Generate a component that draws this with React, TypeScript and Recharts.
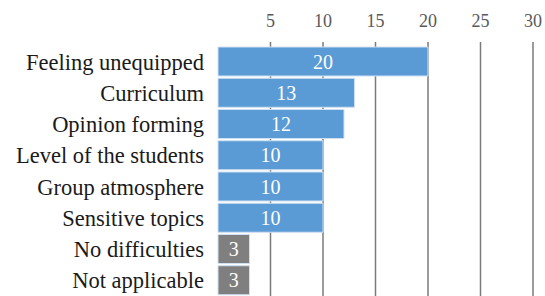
import { Bar, BarChart, CartesianGrid, Cell, LabelList, XAxis, YAxis } from 'recharts'

const categories = [
  'Feeling unequipped',
  'Curriculum',
  'Opinion forming',
  'Level of the students',
  'Group atmosphere',
  'Sensitive topics',
  'No difficulties',
  'Not applicable',
]
const counts = [20, 13, 12, 10, 10, 10, 3, 3]
const xTicks = [5, 10, 15, 20, 25, 30]

// last two rows are the "no answer" type rows, drawn in grey
const greyRows = ['No difficulties', 'Not applicable']

const data = categories.map((name, i) => ({ name, value: counts[i] }))

const FONT = '"Liberation Serif", serif'

// only draw grid lines at the labelled ticks (no line at zero)
const gridX = (props: any) => {
  const scale = props?.xAxis?.scale
  if (typeof scale === 'function') return xTicks.map((t) => scale(t))
  const { left, width } = props.offset
  return xTicks.map((t) => left + (t / 30) * width)
}

export default function App() {
  return (
    <div style={{ position: 'fixed', left: 0, top: 0, background: '#fff' }}>
      <BarChart
        width={545}
        height={296}
        data={data}
        layout="vertical"
        margin={{ top: 0, right: 12, bottom: 0, left: 0 }}
        barCategoryGap={1}
      >
        <CartesianGrid
          horizontal={false}
          vertical
          stroke="#7a7a7a"
          strokeWidth={1.5}
          verticalCoordinatesGenerator={gridX}
        />
        <XAxis
          type="number"
          orientation="top"
          domain={[0, 30]}
          ticks={xTicks}
          axisLine={false}
          tickLine={false}
          tickMargin={9}
          height={42}
          tick={{ fill: '#595959', fontSize: 18, fontFamily: FONT }}
        />
        <YAxis
          type="category"
          dataKey="name"
          width={218}
          axisLine={false}
          tickLine={false}
          tickMargin={8}
          padding={{ top: 4, bottom: 0 }}
          tick={{ fill: '#1a1a1a', fontSize: 22.5, fontFamily: FONT }}
        />
        <Bar dataKey="value" isAnimationActive={false} stroke="#cfe0f2" strokeWidth={1}>
          {data.map((d) => (
            <Cell key={d.name} fill={greyRows.includes(d.name) ? '#7f7f7f' : '#5b9bd5'} />
          ))}
          <LabelList dataKey="value" position="center" fill="#ffffff" fontSize={20} fontFamily={FONT} />
        </Bar>
      </BarChart>
    </div>
  )
}
